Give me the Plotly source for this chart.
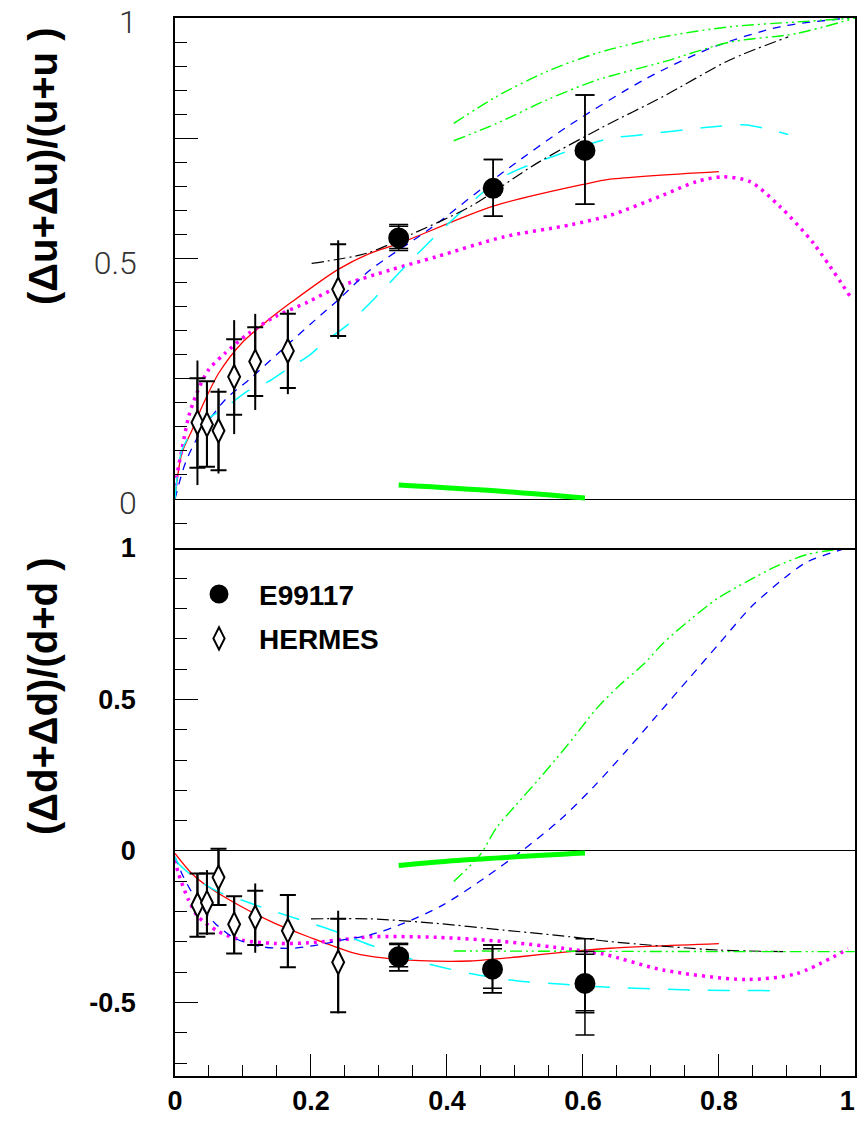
import plotly.graph_objects as go

# ---------------- data: top panel (Δu+Δū)/(u+ū) ----------------
e99_x_top = [0.329, 0.468, 0.603]
e99_y_top = [0.543, 0.646, 0.725]
e99_top_hi = [0.024, 0.060, 0.115]
e99_top_lo = [0.022, 0.058, 0.112]
e99_top_hi2 = [0.028, 0.060, 0.115]
e99_top_lo2 = [0.026, 0.058, 0.112]

her_x = [0.033, 0.047, 0.064, 0.087, 0.118, 0.166, 0.240]
her_y_top = [0.159, 0.155, 0.142, 0.254, 0.286, 0.308, 0.436]
her_top_stat_hi = [0.092, 0.090, 0.081, 0.078, 0.071, 0.077, 0.094]
her_top_stat_lo = [0.094, 0.088, 0.082, 0.079, 0.072, 0.077, 0.097]
her_top_tot_hi = [0.129, 0.090, 0.088, 0.118, 0.099, 0.086, 0.102]
her_top_tot_lo = [0.130, 0.088, 0.089, 0.119, 0.101, 0.090, 0.103]

red_top_x = [0.0, 0.01, 0.025, 0.042, 0.064, 0.098, 0.137, 0.172, 0.24, 0.287, 0.329, 0.468, 0.603, 0.64, 0.8]
red_top_y = [0.005, 0.095, 0.143, 0.199, 0.261, 0.324, 0.372, 0.410, 0.4775, 0.511, 0.531, 0.609, 0.655, 0.665, 0.681]

mag_top_x = [0.0, 0.0025, 0.01, 0.02, 0.032, 0.049, 0.0735, 0.108, 0.147, 0.196, 0.24, 0.316, 0.385, 0.483, 0.581, 0.64, 0.718, 0.767, 0.806, 0.846, 0.89, 0.939, 0.995]
mag_top_y = [0.01, 0.046, 0.102, 0.171, 0.22, 0.268, 0.303, 0.344, 0.379, 0.41, 0.441, 0.476, 0.504, 0.545, 0.57, 0.59, 0.632, 0.66, 0.67, 0.66, 0.608, 0.532, 0.417]

blue_top_x = [0.0, 0.015, 0.034, 0.0735, 0.108, 0.157, 0.206, 0.24, 0.287, 0.375, 0.483, 0.581, 0.694, 0.792, 0.89, 0.99]
blue_top_y = [0.0, 0.074, 0.13, 0.206, 0.247, 0.31, 0.372, 0.414, 0.476, 0.562, 0.68, 0.778, 0.875, 0.94, 0.982, 1.0]

cyan_top_x = [0.0, 0.0098, 0.03, 0.049, 0.076, 0.105, 0.137, 0.167, 0.196, 0.223, 0.252, 0.301, 0.35, 0.4, 0.483, 0.561, 0.64, 0.684, 0.792, 0.84, 0.902]
cyan_top_y = [0.0, 0.10, 0.15, 0.168, 0.192, 0.223, 0.244, 0.272, 0.297, 0.33, 0.36, 0.428, 0.50, 0.57, 0.67, 0.715, 0.75, 0.757, 0.774, 0.778, 0.758]

black_top_x = [0.201, 0.282, 0.35, 0.434, 0.532, 0.63, 0.718, 0.816, 0.902]
black_top_y = [0.49, 0.511, 0.552, 0.608, 0.698, 0.774, 0.837, 0.913, 0.961]

green1_top_x = [0.41, 0.473, 0.547, 0.62, 0.718, 0.816, 0.914, 1.0]
green1_top_y = [0.781, 0.837, 0.889, 0.927, 0.961, 0.982, 0.992, 1.0]
green2_top_y = [0.745, 0.781, 0.83, 0.871, 0.909, 0.95, 0.968, 1.0]

thick_top_x = [0.329, 0.47, 0.603]
thick_top_y = [0.029, 0.017, 0.002]

# ---------------- data: bottom panel (Δd+Δd̄)/(d+d̄) ----------------
e99_x_bot = [0.329, 0.467, 0.603]
e99_y_bot = [-0.349, -0.390, -0.437]
e99_bot_hi1 = [0.040, 0.067, 0.096]
e99_bot_lo1 = [0.033, 0.063, 0.090]
e99_bot_hi2 = [0.044, 0.080, 0.105]
e99_bot_lo2 = [0.046, 0.078, 0.097]
e99_bot_hi3 = [0.044, 0.080, 0.147]
e99_bot_lo3 = [0.046, 0.078, 0.170]

her_y_bot = [-0.178, -0.171, -0.087, -0.242, -0.219, -0.263, -0.367]
her_bot_stat_hi = [0.104, 0.097, 0.094, 0.093, 0.088, 0.118, 0.143]
her_bot_stat_lo = [0.105, 0.101, 0.091, 0.096, 0.091, 0.121, 0.165]
her_bot_tot_hi = [0.104, 0.108, 0.094, 0.093, 0.112, 0.118, 0.170]
her_bot_tot_lo = [0.105, 0.106, 0.091, 0.096, 0.117, 0.121, 0.169]

red_bot_x = [0.0, 0.0245, 0.049, 0.098, 0.147, 0.196, 0.265, 0.306, 0.36, 0.434, 0.507, 0.581, 0.64, 0.8]
red_bot_y = [-0.008, -0.074, -0.118, -0.184, -0.239, -0.283, -0.338, -0.353, -0.362, -0.363, -0.349, -0.332, -0.321, -0.306]

mag_bot_x = [0.0, 0.005, 0.02, 0.034, 0.064, 0.098, 0.147, 0.196, 0.265, 0.287, 0.385, 0.483, 0.581, 0.63, 0.718, 0.84, 0.914, 0.99]
mag_bot_y = [-0.03, -0.074, -0.162, -0.217, -0.266, -0.294, -0.305, -0.303, -0.288, -0.283, -0.285, -0.299, -0.324, -0.34, -0.393, -0.424, -0.405, -0.323]

blue_bot_x = [0.0, 0.01, 0.02, 0.039, 0.059, 0.088, 0.1275, 0.172, 0.211, 0.245, 0.287, 0.336, 0.395, 0.456, 0.51, 0.566, 0.615, 0.664, 0.708, 0.757, 0.801, 0.848, 0.897, 0.929, 0.988]
blue_bot_y = [-0.019, -0.074, -0.118, -0.184, -0.239, -0.288, -0.316, -0.321, -0.31, -0.294, -0.277, -0.239, -0.177, -0.088, 0.0, 0.102, 0.21, 0.331, 0.445, 0.572, 0.686, 0.807, 0.902, 0.953, 1.0]

cyan_bot_x = [0.0, 0.005, 0.034, 0.069, 0.098, 0.132, 0.166, 0.201, 0.233, 0.287, 0.36, 0.434, 0.502, 0.571, 0.64, 0.767, 0.9]
cyan_bot_y = [-0.02, -0.041, -0.096, -0.14, -0.162, -0.189, -0.214, -0.239, -0.263, -0.310, -0.365, -0.404, -0.428, -0.44, -0.45, -0.459, -0.461]

black_bot_x = [0.2, 0.287, 0.385, 0.483, 0.581, 0.64, 0.8, 0.9]
black_bot_y = [-0.224, -0.224, -0.239, -0.261, -0.283, -0.299, -0.327, -0.332]

green_rise_x = [0.41, 0.449, 0.473, 0.502, 0.532, 0.561, 0.591, 0.62, 0.654, 0.689, 0.718, 0.757, 0.797, 0.841, 0.885, 0.929, 0.988]
green_rise_y = [-0.101, -0.012, 0.077, 0.153, 0.229, 0.305, 0.388, 0.47, 0.547, 0.616, 0.686, 0.762, 0.832, 0.889, 0.94, 0.978, 1.0]
green_flat_x = [0.41, 0.6, 0.8, 1.0]
green_flat_y = [-0.33, -0.331, -0.332, -0.332]

thick_bot_x = [0.329, 0.424, 0.603]
thick_bot_y = [-0.048, -0.03, -0.007]

x_tick_vals = [0, 0.2, 0.4, 0.6, 0.8, 1]
x_tick_text = ["0", "0.2", "0.4", "0.6", "0.8", "1\u00a0\u00a0"]
top_tick_vals = [0, 0.25, 0.5, 0.75, 1]
top_tick_text = ["0", "", "0.5", "", "1"]
bot_tick_vals = [-0.5, 0, 0.5, 1]
bot_tick_text = ["-0.5", "0", "0.5", "1"]

BOLD = dict(family="Liberation Sans, Arial, sans-serif", size=27, color="black", weight="bold")
LEG_FONT = dict(family="Liberation Sans, Arial, sans-serif", size=28, color="black", weight="bold")

fig = go.Figure()

def curve(x, y, color, width, dash, top):
    fig.add_trace(go.Scatter(x=x, y=y, mode="lines", line=dict(color=color, width=width, dash=dash, shape="spline", smoothing=0.8),
                             xaxis="x2" if top else "x", yaxis="y2" if top else "y", showlegend=False, hoverinfo="skip"))

DASH_BLUE = "8px,7px"
DASH_CYAN = "22px,18px"
DASH_BLACK = "12px,4px,2px,4px"
DASH_GREEN = "12px,4px,2px,4px,2px,4px"
DOT_MAG = "3px,5px"

# top panel curves
curve(red_top_x, red_top_y, "#ff0000", 1.3, "solid", True)
curve(mag_top_x, mag_top_y, "#ff00ff", 3.5, DOT_MAG, True)
curve(blue_top_x, blue_top_y, "#0000ff", 1.3, DASH_BLUE, True)
curve(cyan_top_x, cyan_top_y, "#00ffff", 1.5, DASH_CYAN, True)
curve(black_top_x, black_top_y, "black", 1.2, DASH_BLACK, True)
curve(green1_top_x, green1_top_y, "#00ff00", 1.4, DASH_GREEN, True)
curve(green1_top_x, green2_top_y, "#00ff00", 1.4, DASH_GREEN, True)
curve(thick_top_x, thick_top_y, "#00ff00", 5, "solid", True)

# bottom panel curves
curve(red_bot_x, red_bot_y, "#ff0000", 1.3, "solid", False)
curve(mag_bot_x, mag_bot_y, "#ff00ff", 3.5, DOT_MAG, False)
curve(blue_bot_x, blue_bot_y, "#0000ff", 1.3, DASH_BLUE, False)
curve(cyan_bot_x, cyan_bot_y, "#00ffff", 1.5, DASH_CYAN, False)
curve(black_bot_x, black_bot_y, "black", 1.2, DASH_BLACK, False)
curve(green_rise_x, green_rise_y, "#00ff00", 1.4, DASH_GREEN, False)
curve(green_flat_x, green_flat_y, "#00ff00", 1.4, DASH_GREEN, False)
curve(thick_bot_x, thick_bot_y, "#00ff00", 5, "solid", False)

def errtrace(x, y, hi, lo, top, width, thick=1.5):
    fig.add_trace(go.Scatter(x=x, y=y, mode="markers", marker=dict(size=1, color="rgba(0,0,0,0)"),
                             error_y=dict(type="data", symmetric=False, array=hi, arrayminus=lo,
                                          color="black", thickness=thick, width=width),
                             xaxis="x2" if top else "x", yaxis="y2" if top else "y", showlegend=False, hoverinfo="skip"))

# HERMES error bars
errtrace(her_x, her_y_top, her_top_tot_hi, her_top_tot_lo, True, 0, 2)
errtrace(her_x, her_y_top, her_top_stat_hi, her_top_stat_lo, True, 8, 2)
errtrace(her_x, her_y_bot, her_bot_tot_hi, her_bot_tot_lo, False, 0, 2)
errtrace(her_x, her_y_bot, her_bot_stat_hi, her_bot_stat_lo, False, 8, 2)
# E99117 error bars
errtrace(e99_x_top, e99_y_top, e99_top_hi2, e99_top_lo2, True, 9.5)
errtrace(e99_x_top, e99_y_top, e99_top_hi, e99_top_lo, True, 9.5)
errtrace(e99_x_bot, e99_y_bot, e99_bot_hi3, e99_bot_lo3, False, 9.5)
errtrace(e99_x_bot, e99_y_bot, e99_bot_hi2, e99_bot_lo2, False, 9.5)
errtrace(e99_x_bot, e99_y_bot, e99_bot_hi1, e99_bot_lo1, False, 9.5)

# markers
CIRCLE = dict(symbol="circle", size=18, color="black", line=dict(color="black", width=3))
DIAMOND = dict(symbol="diamond-tall", size=17, color="white", line=dict(color="black", width=2))
fig.add_trace(go.Scatter(x=e99_x_top, y=e99_y_top, mode="markers", marker=CIRCLE, xaxis="x2", yaxis="y2", showlegend=False))
fig.add_trace(go.Scatter(x=her_x, y=her_y_top, mode="markers", marker=DIAMOND, xaxis="x2", yaxis="y2", showlegend=False))
fig.add_trace(go.Scatter(x=e99_x_bot, y=e99_y_bot, mode="markers", marker=CIRCLE, xaxis="x", yaxis="y",
                         name="E99117", legendgroup="a", showlegend=True))
fig.add_trace(go.Scatter(x=her_x, y=her_y_bot, mode="markers", marker=DIAMOND, xaxis="x", yaxis="y",
                         name="HERMES", legendgroup="b", showlegend=True))

# geometry: plot area 175..855 px horizontally, 18..1076 px vertically
H_PLOT = 1058.0
top_dom = [(1076 - 548) / H_PLOT, 1.0]
bot_dom = [0.0, (1076 - 518) / H_PLOT]

axis_common = dict(showgrid=False, linecolor="black", linewidth=1.5, ticks="inside", tickcolor="black",
                   tickwidth=1.2, automargin=False)

fig.update_layout(
    width=859, height=1121,
    margin=dict(l=175, r=4, t=18, b=45, autoexpand=False),
    paper_bgcolor="white", plot_bgcolor="white",
    showlegend=True,
    legend=dict(x=4 / 680.0, y=0.4789, xanchor="left", yanchor="top", font=LEG_FONT, bgcolor="rgba(0,0,0,0)",
                itemwidth=70, tracegroupgap=5, itemsizing="trace"),
    xaxis=dict(**axis_common, range=[0, 1.0002], domain=[0, 1], anchor="y", showline=True, mirror=False,
               tickvals=x_tick_vals, ticktext=x_tick_text, ticklen=22, tickfont=BOLD, ticklabelstandoff=0,
               ticklabeloverflow="allow",
               minor=dict(dtick=0.05, ticklen=11, ticks="inside", tickcolor="black", tickwidth=1.2),
               zeroline=False),
    xaxis2=dict(showgrid=False, range=[0, 1.0002], domain=[0, 1], anchor="y2", showline=True, mirror=True,
                linecolor="black", linewidth=1.5, showticklabels=False, ticks="", zeroline=False, automargin=False),
    yaxis=dict(**axis_common, range=[-0.7426, 1.0990], domain=bot_dom, anchor="x", showline=True, mirror=True,
               tickvals=bot_tick_vals, ticktext=bot_tick_text, ticklen=23, tickfont=BOLD, ticklabelstandoff=32,
               ticklabeloverflow="allow",
               minor=dict(dtick=0.1, ticklen=12, ticks="inside", tickcolor="black", tickwidth=1.2),
               zeroline=True, zerolinecolor="black", zerolinewidth=1.3),
    yaxis2=dict(**axis_common, range=[-0.1019, 1.0003], domain=top_dom, anchor="x2", showline=True, mirror=True,
                tickvals=top_tick_vals, ticktext=top_tick_text, ticklen=23, ticklabeloverflow="allow",
                tickfont=dict(family="Roboto, sans-serif", size=32, color="#333333", weight=300), ticklabelstandoff=30,
                ticklabelshift=4,
                minor=dict(dtick=0.05, ticklen=12, ticks="inside", tickcolor="black", tickwidth=1.2),
                zeroline=True, zerolinecolor="black", zerolinewidth=1.3),
)

TITLE_FONT = dict(family="Liberation Sans, Arial, sans-serif", size=40, color="black", weight="bold")
fig.add_annotation(text="(Δu+Δu)/(u+u )", xref="paper", yref="paper", x=(43 - 175) / 680.0, y=(1076 - 167) / H_PLOT,
                   textangle=-90, showarrow=False, font=TITLE_FONT, xanchor="center", yanchor="middle")
fig.add_annotation(text="(Δd+Δd)/(d+d )", xref="paper", yref="paper", x=(43 - 175) / 680.0, y=(1076 - 697) / H_PLOT,
                   textangle=-90, showarrow=False, font=TITLE_FONT, xanchor="center", yanchor="middle")

fig.write_html("out.html")
